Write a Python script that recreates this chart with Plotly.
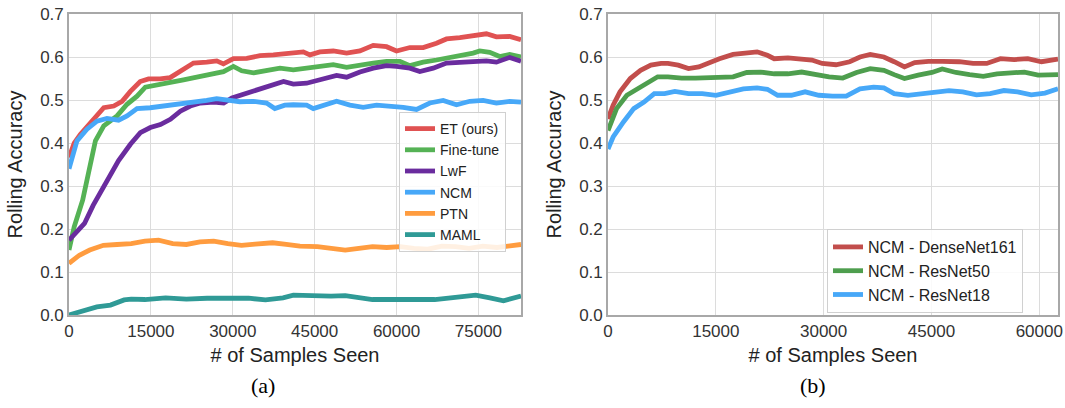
import plotly.graph_objects as go

# ---------------- Panel (a) data ----------------
et_x = [0, 950, 2070, 4450, 6370, 8200, 9730, 11250, 13040, 14560, 16700, 18530, 20360, 22800, 25240, 27070,
        28290, 30120, 32560, 35000, 37440, 39270, 41090, 42920, 44140, 45970, 48410, 50850, 53290, 55730, 58170,
        60000, 62440, 64880, 67320, 69150, 71590, 74030, 76460, 78290, 80730, 82800]
et_y = [0.366, 0.40, 0.42, 0.455, 0.482, 0.486, 0.497, 0.52, 0.543, 0.549, 0.549, 0.552, 0.568, 0.586, 0.588, 0.591,
        0.584, 0.596, 0.597, 0.603, 0.605, 0.607, 0.611, 0.612, 0.605, 0.612, 0.614, 0.609, 0.614, 0.627, 0.624,
        0.614, 0.622, 0.622, 0.632, 0.642, 0.645, 0.65, 0.654, 0.647, 0.648, 0.64]

ft_x = [0, 950, 2500, 3920, 4840, 6370, 8800, 10630, 12460, 13980, 16110, 18530, 20970, 23410, 25850, 28290,
        30120, 31640, 33780, 36220, 38650, 41090, 43530, 45970, 48410, 50850, 53290, 55730, 58170, 60610, 62440,
        64880, 67320, 69150, 71590, 74030, 75250, 77070, 78900, 80730, 82800]
ft_y = [0.151, 0.205, 0.267, 0.359, 0.405, 0.44, 0.463, 0.49, 0.509, 0.53, 0.536, 0.54, 0.547, 0.553, 0.56, 0.566,
        0.578, 0.568, 0.563, 0.568, 0.574, 0.57, 0.574, 0.578, 0.582, 0.576, 0.582, 0.586, 0.59, 0.59, 0.58,
        0.588, 0.593, 0.597, 0.601, 0.609, 0.614, 0.611, 0.601, 0.606, 0.60]

lwf_x = [0, 1260, 2840, 4420, 6320, 8200, 9080, 11250, 13070, 14900, 16740, 18570, 20400, 22230, 24060, 26500,
         28330, 29850, 32590, 35030, 37470, 39300, 41090, 43530, 45970, 49020, 50850, 53290, 55730, 58170, 60000,
         62440, 64270, 66710, 69150, 71590, 74030, 76460, 78290, 80730, 82800]
lwf_y = [0.174, 0.193, 0.213, 0.255, 0.298, 0.336, 0.359, 0.397, 0.424, 0.436, 0.443, 0.455, 0.474, 0.486, 0.493, 0.495,
         0.493, 0.505, 0.516, 0.527, 0.536, 0.543, 0.537, 0.539, 0.547, 0.557, 0.553, 0.565, 0.574, 0.58, 0.578,
         0.574, 0.566, 0.574, 0.586, 0.588, 0.59, 0.591, 0.588, 0.599, 0.59]

ncm_x = [0, 1460, 3290, 5120, 6950, 9080, 10630, 12460, 14870, 17300, 19740, 22780, 25220, 27050, 28880, 31310,
         33750, 36190, 37700, 39530, 41090, 43530, 44750, 46580, 49020, 51460, 53900, 56340, 58780, 61220, 63660,
         66100, 68540, 70980, 73420, 75860, 78290, 80730, 82800]
ncm_y = [0.34, 0.405, 0.432, 0.451, 0.457, 0.453, 0.463, 0.48, 0.482, 0.486, 0.488, 0.493, 0.499, 0.503, 0.499, 0.496,
         0.497, 0.493, 0.48, 0.488, 0.489, 0.488, 0.48, 0.488, 0.497, 0.488, 0.483, 0.488, 0.486, 0.483, 0.478,
         0.493, 0.499, 0.489, 0.497, 0.499, 0.493, 0.497, 0.495]

ptn_x = [0, 1900, 3800, 6300, 8800, 11400, 13900, 16400, 19000, 21500, 24000, 26500, 29100, 31600, 34100, 37300,
         39800, 42300, 45500, 48000, 50600, 53100, 55600, 58200, 60700, 63200, 65700, 68300, 70800, 73300, 75800,
         78400, 80300, 82800]
ptn_y = [0.12, 0.139, 0.151, 0.162, 0.164, 0.166, 0.172, 0.174, 0.166, 0.164, 0.17, 0.172, 0.166, 0.162, 0.165, 0.168,
         0.164, 0.16, 0.159, 0.156, 0.151, 0.155, 0.159, 0.157, 0.159, 0.155, 0.153, 0.16, 0.159, 0.155, 0.16,
         0.157, 0.16, 0.164]

maml_x = [0, 2500, 5100, 7600, 10100, 11400, 13900, 17700, 21500, 25300, 29100, 32900, 36000, 39200, 41100, 44200,
          48000, 50600, 53100, 55600, 59400, 63200, 67000, 69500, 72000, 74500, 77100, 79600, 82800]
maml_y = [0.0, 0.008, 0.019, 0.023, 0.035, 0.037, 0.036, 0.04, 0.037, 0.039, 0.04, 0.039, 0.035, 0.04, 0.046, 0.044,
          0.044, 0.045, 0.04, 0.036, 0.036, 0.035, 0.036, 0.039, 0.043, 0.046, 0.04, 0.033, 0.044]

names_a = ["ET (ours)", "Fine-tune", "LwF", "NCM", "PTN", "MAML"]

# ---------------- Panel (b) data ----------------
dn_x = [0, 715, 1670, 3100, 4530, 5960, 7390, 8340, 9770, 11200, 12630, 14070, 15500, 17400, 19310, 20740, 22170,
        23120, 25030, 26940, 28370, 29800, 31710, 33620, 35050, 36480, 38380, 39810, 41240, 42670, 44580, 46490,
        48870, 50780, 52680, 54590, 56500, 58400, 60310, 62600]
dn_y = [0.456, 0.488, 0.519, 0.55, 0.569, 0.581, 0.585, 0.585, 0.581, 0.573, 0.577, 0.587, 0.596, 0.606, 0.608, 0.612,
        0.604, 0.596, 0.598, 0.596, 0.593, 0.585, 0.582, 0.589, 0.60, 0.606, 0.60, 0.589, 0.577, 0.587, 0.59, 0.59,
        0.589, 0.585, 0.585, 0.596, 0.594, 0.596, 0.589, 0.595]

r50_x = [0, 1190, 2620, 4050, 5480, 6910, 8340, 10250, 12160, 14070, 15970, 17400, 19310, 21220, 23120, 25030, 26940,
         28850, 30750, 32660, 34570, 36480, 38380, 39810, 41240, 43150, 45060, 46490, 48400, 50300, 52210, 54120,
         56020, 57930, 59840, 62600]
r50_y = [0.429, 0.48, 0.511, 0.526, 0.538, 0.554, 0.554, 0.551, 0.551, 0.553, 0.554, 0.554, 0.564, 0.565, 0.561, 0.561,
         0.565, 0.559, 0.554, 0.551, 0.564, 0.573, 0.569, 0.559, 0.55, 0.558, 0.564, 0.572, 0.564, 0.559, 0.555,
         0.561, 0.564, 0.565, 0.558, 0.559]

r18_x = [0, 715, 2150, 3580, 5010, 6440, 7870, 9300, 11200, 13110, 15020, 16930, 18830, 20740, 22170, 23600, 25510,
         27420, 29320, 31230, 33140, 35050, 36950, 38380, 39810, 41720, 43630, 45530, 47440, 49350, 51260, 53160,
         55070, 56980, 58880, 60790, 62600]
r18_y = [0.386, 0.414, 0.449, 0.48, 0.495, 0.515, 0.515, 0.52, 0.515, 0.515, 0.511, 0.519, 0.526, 0.528, 0.525, 0.511,
         0.511, 0.519, 0.511, 0.509, 0.509, 0.526, 0.53, 0.528, 0.515, 0.511, 0.515, 0.52, 0.522, 0.519, 0.512,
         0.515, 0.522, 0.519, 0.512, 0.516, 0.526]

names_b = ["NCM - DenseNet161", "NCM - ResNet50", "NCM - ResNet18"]

y_ticks = [0.0, 0.1, 0.2, 0.3, 0.4, 0.5, 0.6, 0.7]
x_ticks_a = [0, 15000, 30000, 45000, 60000, 75000]
x_ticks_b = [0, 15000, 30000, 45000, 60000]

# ---------------- styling ----------------
colors_a = ["#e05252", "#55b255", "#6a2c9e", "#47a8f8", "#ff9c3f", "#2f9a96"]
colors_b = ["#c24e4c", "#4e9e4e", "#47a8f8"]
LW = 4.8
SANS = "Liberation Sans, Arial, sans-serif"

fig = go.Figure()
series_a = [(et_x, et_y), (ft_x, ft_y), (lwf_x, lwf_y), (ncm_x, ncm_y), (ptn_x, ptn_y), (maml_x, maml_y)]
for (xs, ys), nm, c in zip(series_a, names_a, colors_a):
    fig.add_trace(go.Scatter(x=xs, y=ys, name=nm, mode="lines", line=dict(color=c, width=LW),
                             xaxis="x", yaxis="y", legend="legend"))

series_b = [(dn_x, dn_y), (r50_x, r50_y), (r18_x, r18_y)]
for (xs, ys), nm, c in zip(series_b, names_b, colors_b):
    fig.add_trace(go.Scatter(x=xs, y=ys, name=nm, mode="lines", line=dict(color=c, width=LW),
                             xaxis="x2", yaxis="y2", legend="legend2"))

W, H = 1065, 408
top_px, bot_px = 14, 315
ydom = [(H - bot_px) / H, (H - top_px) / H]

axis_common = dict(showgrid=True, gridcolor="#dcdcdc", gridwidth=1.2, zeroline=False, automargin=False,
                   showline=True, linecolor="#a8a8a8", linewidth=1.6, mirror=True, ticks="",
                   tickfont=dict(family=SANS, size=17, color="#333333"))

xa_title = dict(text="# of Samples Seen", font=dict(family=SANS, size=20, color="#222222"), standoff=8)
ya_title = dict(text="Rolling Accuracy", font=dict(family=SANS, size=20, color="#222222"), standoff=12)

fig.update_layout(
    width=W, height=H,
    margin=dict(l=0, r=0, t=0, b=0, autoexpand=False),
    paper_bgcolor="white", plot_bgcolor="white",
    showlegend=True,
    xaxis=dict(domain=[69 / W, 521 / W], range=[0, 82800], tickvals=x_ticks_a,
               ticktext=[str(v) for v in x_ticks_a], anchor="y", title=xa_title, **axis_common),
    yaxis=dict(domain=ydom, range=[0, 0.7], tickvals=y_ticks, ticktext=[f"{v:.1f}" for v in y_ticks],
               anchor="x", title=ya_title, **axis_common),
    xaxis2=dict(domain=[608 / W, 1058 / W], range=[0, 62600], tickvals=x_ticks_b,
                ticktext=[str(v) for v in x_ticks_b], anchor="y2", title=xa_title, **axis_common),
    yaxis2=dict(domain=ydom, range=[0, 0.7], tickvals=y_ticks, ticktext=[f"{v:.1f}" for v in y_ticks],
                anchor="x2", title=ya_title, **axis_common),
    legend=dict(x=399 / W, y=(H - 112) / H, xanchor="left", yanchor="top",
                bgcolor="rgba(255,255,255,0.85)", bordercolor="#d0d0d0", borderwidth=1,
                font=dict(family=SANS, size=14, color="#222222")),
    legend2=dict(x=827 / W, y=(H - 229) / H, xanchor="left", yanchor="top",
                 bgcolor="rgba(255,255,255,0.85)", bordercolor="#d0d0d0", borderwidth=1,
                 font=dict(family=SANS, size=16, color="#222222")),
    annotations=[
        dict(text="(a)", x=263 / W, y=(H - 385) / H, xref="paper", yref="paper", showarrow=False,
             xanchor="center", yanchor="middle",
             font=dict(family="Liberation Serif, Times New Roman, serif", size=22, color="black")),
        dict(text="(b)", x=813 / W, y=(H - 385) / H, xref="paper", yref="paper", showarrow=False,
             xanchor="center", yanchor="middle",
             font=dict(family="Liberation Serif, Times New Roman, serif", size=22, color="black")),
    ],
    hovermode=False,
)

fig.write_html("out.html", config={"displayModeBar": False},
               post_script="document.body.style.margin='0';document.body.style.padding='0';")
